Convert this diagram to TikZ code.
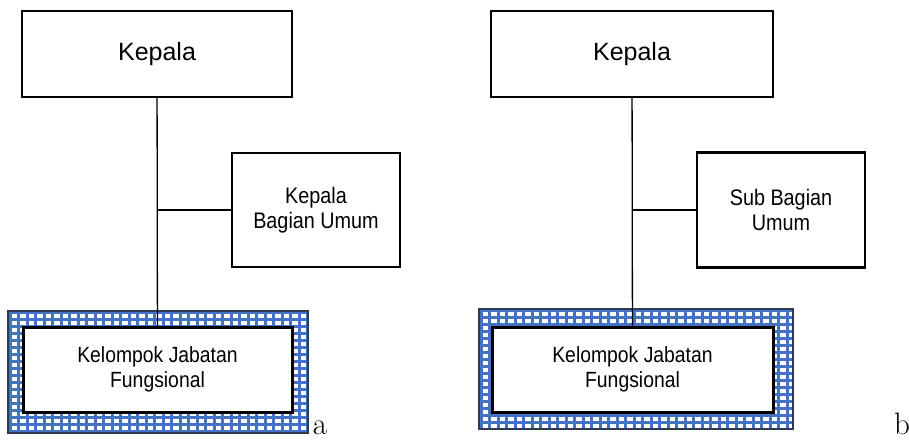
\documentclass[tikz,border=0pt]{standalone}
\usepackage{fontspec}
\setmainfont{Liberation Sans}
\newfontfamily\narrowfont[FakeStretch=0.88]{Liberation Sans}
\newfontfamily\labelfont{Latin Modern Roman}
\definecolor{gridblue}{HTML}{4472C4}
\definecolor{framenavy}{HTML}{2E3B55}

\begin{document}
\begin{tikzpicture}[
x=1pt,y=-1pt,
headbox/.style={
	draw,
	line width=2.4pt,
	fill=white,
	inner sep=0pt,
	font=\fontsize{25}{29}\selectfont
},
unitbox/.style={
	draw,
	line width=2.4pt,
	fill=white,
	inner sep=0pt,
	align=center,
	font=\narrowfont\fontsize{22.5}{25}\selectfont
},
groupbox/.style={
	draw,
	line width=3pt,
	fill=white,
	inner sep=0pt,
	align=center,
	font=\narrowfont\fontsize{22}{25}\selectfont
},
link/.style={
	line width=1.3pt
},
gridline/.style={
	gridblue,
	line width=3pt
},
tag/.style={
	inner sep=0pt,
	anchor=base,
	font=\labelfont\fontsize{31}{31}\selectfont
}
]
\useasboundingbox (0,0) rectangle (909,440);

\foreach \xa/\ya/\xb/\yb in {8/311/308/433,479/309/793/429}{
\begin{scope}
\clip (\xa,\ya) rectangle (\xb,\yb);
\fill[white] (\xa,\ya) rectangle (\xb,\yb);
\foreach \g in {2,10.5,...,320}
\draw[gridline] ({\xa+\g},\ya) -- ({\xa+\g},\yb);
\foreach \g in {1.5,8.5,...,130}
\draw[gridline] (\xa,{\ya+\g}) -- (\xb,{\ya+\g});
\end{scope}
\draw[framenavy,line width=1.4pt] (\xa,\ya) rectangle (\xb,\yb);
}

\node[headbox,minimum width=270pt,minimum height=86pt] (kepa) at (157,54) {Kepala};
\node[unitbox,minimum width=168pt,minimum height=114pt] (uma) at (316,210) {Kepala\\Bagian Umum};
\node[groupbox,minimum width=269pt,minimum height=85pt] (jfa) at (157.5,369.5) {Kelompok Jabatan\\Fungsional};

\node[headbox,minimum width=282pt,minimum height=86pt] (kepb) at (632,54) {Kepala};
\node[unitbox,minimum width=168pt,minimum height=115pt] (umb) at (781,210) {Sub Bagian\\Umum};
\node[groupbox,minimum width=281pt,minimum height=85pt] (jfb) at (632.5,369.5) {Kelompok Jabatan\\Fungsional};

\node[tag] (la) at (320,434) {a};
\node[tag] (lb) at (902,434) {b};

\draw[link] (kepa) -- (jfa);
\draw[link] (kepa.south |- uma.west) -- (uma);
\draw[link] (kepb) -- (jfb);
\draw[link] (kepb.south |- umb.west) -- (umb);

\end{tikzpicture}
\end{document}
